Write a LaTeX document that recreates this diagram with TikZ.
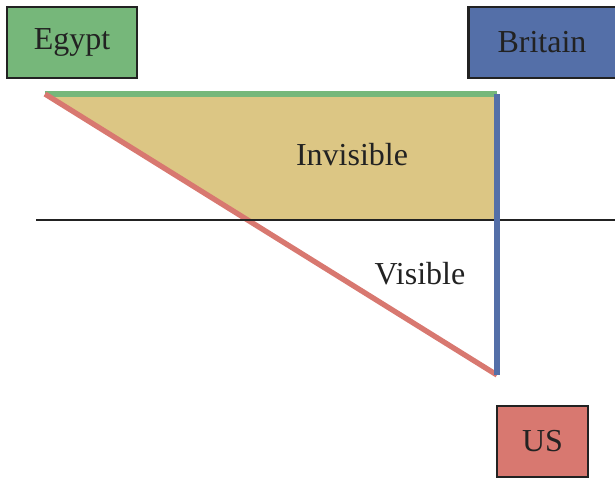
\documentclass[tikz,border=0pt]{standalone}
\usepackage{fontspec}
\setmainfont{Liberation Serif}
\definecolor{egyptgreen}{RGB}{118,183,122}
\definecolor{britainblue}{RGB}{84,111,168}
\definecolor{usred}{RGB}{216,120,112}
\definecolor{tanfill}{RGB}{220,198,132}
\definecolor{boxedge}{RGB}{34,34,34}
\begin{document}
\begin{tikzpicture}[x=0.75pt,y=-0.75pt,
  country/.style={draw=boxedge,line width=2.2pt,inner sep=0pt,font=\fontsize{24}{28}\selectfont,text=boxedge},
  lbl/.style={font=\fontsize{24}{28}\selectfont,text=boxedge},
  leg/.style={line width=4pt}]
\useasboundingbox (0,0) rectangle (615,479);
% country boxes
\node[country,fill=egyptgreen,minimum width=130*0.75pt,minimum height=71*0.75pt] (egypt) at (72,42.5) {Egypt};
\node[country,fill=britainblue,minimum width=151*0.75pt,minimum height=71*0.75pt,anchor=west] (britain) at (467,42.5) {};
\node[lbl] at (542,42.5) {Britain};
\node[country,fill=usred,minimum width=91*0.75pt,minimum height=71*0.75pt] (us) at (542.5,441.5) {US};
% triangle corners
\coordinate (a) at (45,94);
\coordinate (b) at (497,94);
\coordinate (c) at (497,375);
\coordinate (l) at (36,220);
\coordinate (r) at (615,220);
% invisible region above the line
\fill[tanfill] (a) -- (b) -- (497,220) -- (247,220) -- cycle;
\draw[leg,egyptgreen] (a) -- (b);
\draw[leg,usred] (a) -- (c);
\draw[line width=2.2pt,boxedge] (l) -- (r);
\draw[leg,britainblue] (b) -- (c);
\node[lbl] (inv) at (352,155) {Invisible};
\node[lbl] (vis) at (420,274) {Visible};
\end{tikzpicture}
\end{document}
